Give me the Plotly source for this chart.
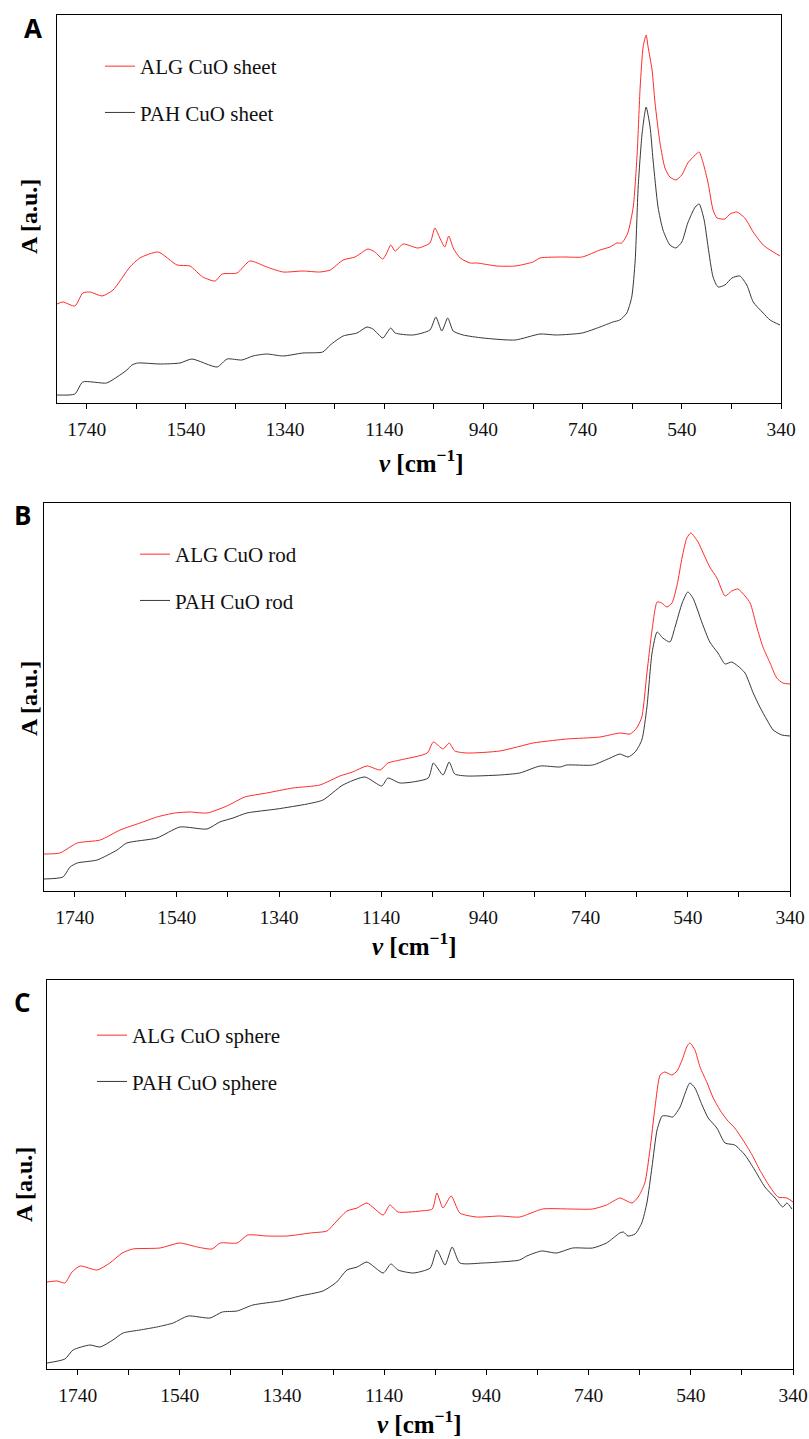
import plotly.graph_objects as go

# ---------------- data (absorbance, arbitrary units) ----------------
# Panel A : CuO sheet
wn_alg_sheet = [1800, 1788, 1764, 1748, 1733, 1709, 1687, 1653, 1633, 1596, 1558, 1532, 1506, 1481, 1467,
                1437, 1411, 1377, 1344, 1304, 1270, 1249, 1223, 1199, 1173, 1159, 1143, 1135, 1127, 1118,
                1102, 1072, 1048, 1038, 1028, 1018, 1010, 1001, 987, 967, 953, 913, 876, 840, 826, 780,
                741, 705, 685, 671, 661, 649, 638, 630, 624, 618, 612, 608, 600, 594, 584, 574, 564, 552,
                540, 528, 513, 505, 497, 487, 477, 469, 453, 443, 429, 413, 396, 376, 362, 342]
a_alg_sheet = [99, 101, 97, 110, 111, 107, 113, 136, 145, 151, 138, 137, 126, 122, 129,
               130, 142, 136, 131, 132, 131, 133, 143, 146, 154, 151, 144, 150, 158, 152,
               159, 155, 160, 175, 165, 156, 167, 155, 145, 140, 140, 137, 137, 141, 145, 146,
               146, 153, 156, 160, 160, 170, 196, 250, 316, 356, 368, 356, 333, 300, 260, 235, 226, 223,
               228, 240, 248, 251, 240, 220, 193, 185, 184, 189, 191, 185, 171, 158, 153, 147]

wn_pah_sheet = [1800, 1764, 1748, 1700, 1679, 1659, 1649, 1637, 1592, 1552, 1528, 1477, 1457, 1427, 1405,
                1377, 1344, 1304, 1264, 1249, 1223, 1195, 1175, 1163, 1143, 1135, 1127, 1118, 1082, 1048,
                1036, 1024, 1012, 1001, 981, 941, 876, 826, 793, 741, 705, 679, 665, 651, 641, 634, 628,
                620, 612, 604, 598, 588, 578, 564, 552, 540, 528, 513, 505, 495, 487, 477, 467, 453, 439,
                423, 409, 396, 376, 362, 342]
a_pah_sheet = [8, 9, 21, 20, 26, 33, 38, 40, 39, 40, 44, 36, 44, 43, 47,
               49, 47, 50, 51, 58, 67, 70, 76, 74, 65, 70, 75, 70, 68, 73,
               86, 72, 85, 72, 68, 65, 63, 69, 68, 70, 76, 81, 83, 90, 106, 143, 216,
               270, 296, 276, 243, 196, 173, 158, 155, 161, 180, 196, 199, 183, 156, 126, 116, 118, 125,
               127, 118, 101, 90, 83, 78]

# Panel B : CuO rod
wn_alg_rod = [1800, 1769, 1735, 1690, 1651, 1612, 1579, 1544, 1514, 1481, 1442, 1407, 1364, 1313, 1260,
              1221, 1196, 1168, 1142, 1127, 1103, 1050, 1038, 1019, 1007, 996, 972, 908, 843, 829, 777,
              712, 673, 653, 640, 630, 620, 610, 600, 591, 581, 571, 561, 551, 542, 534, 520, 510, 497,
              483, 467, 454, 442, 428, 418, 405, 393, 379, 366, 354, 340]
a_alg_rod = [37, 38, 48, 51, 61, 68, 74, 78, 79, 78, 85, 94, 98, 103, 106,
             115, 119, 125, 121, 128, 131, 138, 149, 142, 148, 140, 138, 140, 148, 149, 152,
             154, 158, 157, 163, 174, 218, 261, 289, 288, 284, 288, 306, 334, 353, 358, 349, 338, 324,
             313, 295, 300, 302, 295, 288, 264, 244, 228, 213, 208, 207]

wn_pah_rod = [1800, 1763, 1749, 1735, 1696, 1657, 1638, 1579, 1534, 1481, 1456, 1430, 1403, 1344, 1285,
              1254, 1215, 1172, 1139, 1127, 1103, 1048, 1038, 1019, 1007, 996, 972, 908, 869, 829, 790,
              777, 726, 692, 673, 657, 643, 630, 620, 610, 600, 589, 575, 565, 551, 540, 530, 512, 497,
              481, 467, 454, 442, 428, 412, 399, 385, 373, 356, 340]
a_pah_rod = [12, 14, 24, 28, 31, 41, 48, 53, 64, 62, 69, 73, 78, 82, 87,
             91, 106, 114, 105, 113, 108, 113, 128, 116, 129, 117, 115, 116, 118, 125, 124,
             126, 126, 133, 137, 134, 139, 151, 184, 238, 259, 253, 249, 264, 288, 299, 293, 268, 249,
             238, 227, 229, 225, 218, 198, 184, 171, 161, 156, 155]

# Panel C : CuO sphere
wn_alg_sphere = [1800, 1780, 1765, 1751, 1735, 1702, 1677, 1653, 1632, 1579, 1540, 1506, 1477, 1461, 1428,
                 1407, 1370, 1330, 1285, 1252, 1240, 1213, 1193, 1174, 1142, 1129, 1113, 1070, 1046, 1037,
                 1025, 1009, 992, 959, 914, 875, 830, 777, 732, 705, 679, 669, 655, 643, 630, 620, 610,
                 600, 591, 577, 567, 557, 548, 542, 532, 522, 508, 497, 483, 469, 454, 438, 420, 405, 385,
                 369, 352, 340]
a_alg_sphere = [87, 88, 86, 97, 103, 99, 106, 116, 120, 121, 126, 122, 120, 126, 126,
                134, 133, 133, 136, 138, 144, 158, 161, 166, 154, 164, 157, 158, 160, 176,
                161, 173, 156, 152, 153, 152, 160, 160, 160, 164, 171, 169, 166, 172, 186, 219, 262,
                294, 297, 294, 298, 309, 322, 326, 319, 302, 286, 272, 259, 249, 241, 229, 214, 199, 182,
                172, 171, 167]

wn_pah_sphere = [1800, 1765, 1749, 1716, 1696, 1671, 1651, 1618, 1585, 1553, 1524, 1481, 1457, 1428, 1397,
                 1344, 1305, 1260, 1233, 1213, 1193, 1174, 1142, 1127, 1113, 1083, 1050, 1037, 1021, 1007,
                 992, 947, 914, 875, 861, 832, 803, 771, 732, 705, 679, 672, 663, 649, 636, 626, 616,
                 606, 596, 585, 575, 561, 551, 542, 532, 518, 506, 489, 473, 454, 434, 415, 395, 375, 360,
                 352, 342]
a_pah_sphere = [6, 10, 19, 24, 22, 29, 36, 39, 42, 46, 53, 51, 57, 58, 64,
                68, 73, 78, 87, 99, 102, 107, 96, 105, 99, 96, 101, 119, 104, 122,
                106, 106, 107, 109, 113, 118, 116, 121, 121, 126, 136, 137, 133, 135, 146, 166, 202,
                239, 253, 253, 252, 262, 276, 286, 281, 264, 251, 241, 226, 224, 214, 199, 182, 171, 162,
                166, 160]

panel_letters = ["A", "B", "C"]
legend_names = [("ALG CuO sheet", "PAH CuO sheet"),
                ("ALG CuO rod", "PAH CuO rod"),
                ("ALG CuO sphere", "PAH CuO sphere")]
tick_vals = [1740, 1540, 1340, 1140, 940, 740, 540, 340]
minor_vals = [1640, 1440, 1240, 1040, 840, 640, 440]
x_title = "<i>ν</i> [cm<sup>−1</sup>]"
y_title = "A [a.u.]"

# ---------------- layout geometry (pixels) ----------------
W, H = 809, 1439
boxes = [(57, 781, 15, 403), (44, 790, 503, 891), (47, 793, 980, 1369)]
y_max = [388, 388, 389]

RED = "#ff2a2a"
BLK = "#383838"
SERIF = "Liberation Serif"

series = [(wn_alg_sheet, a_alg_sheet, wn_pah_sheet, a_pah_sheet),
          (wn_alg_rod, a_alg_rod, wn_pah_rod, a_pah_rod),
          (wn_alg_sphere, a_alg_sphere, wn_pah_sphere, a_pah_sphere)]

fig = go.Figure()
legend_pos = [(100, 46), (135, 534), (92, 1015)]

for i, (wa, aa, wp, ap) in enumerate(series):
    xa = "x" if i == 0 else f"x{i+1}"
    ya = "y" if i == 0 else f"y{i+1}"
    lg = "legend" if i == 0 else f"legend{i+1}"
    fig.add_trace(go.Scatter(x=wa, y=aa, mode="lines", name=legend_names[i][0],
                             line=dict(color=RED, width=1, shape="spline", smoothing=0.6),
                             xaxis=xa, yaxis=ya, legend=lg, legendgroup=f"a{i}"))
    fig.add_trace(go.Scatter(x=wp, y=ap, mode="lines", name=legend_names[i][1],
                             line=dict(color=BLK, width=1, shape="spline", smoothing=0.6),
                             xaxis=xa, yaxis=ya, legend=lg, legendgroup=f"p{i}"))

layout = dict(width=W, height=H, margin=dict(l=0, r=0, t=0, b=0, autoexpand=False),
              paper_bgcolor="white", plot_bgcolor="white", showlegend=True)

annotations = []
for i, (l, r, t, b) in enumerate(boxes):
    sfx = "" if i == 0 else str(i + 1)
    layout["xaxis" + sfx] = dict(
        domain=[l / W, r / W], anchor="y" + sfx, range=[1800, 340], autorange=False,
        automargin=False,
        tickmode="array", tickvals=tick_vals, ticks="outside", ticklen=5, tickwidth=1,
        tickcolor="black", showline=True, linecolor="black", linewidth=1.3, mirror=True,
        showgrid=False, zeroline=False, ticklabelstandoff=3,
        tickfont=dict(family=SERIF, size=19.5, color="#111"),
        minor=dict(tickvals=minor_vals, ticks="outside", ticklen=5, tickcolor="black",
                   showgrid=False))
    layout["yaxis" + sfx] = dict(
        domain=[1 - b / H, 1 - t / H], anchor="x" + sfx, range=[0, y_max[i]], autorange=False,
        automargin=False,
        showticklabels=False, ticks="", showline=True, linecolor="black", linewidth=1.3,
        mirror=True, showgrid=False, zeroline=False)
    lx, ly = legend_pos[i]
    layout["legend" if i == 0 else f"legend{i+1}"] = dict(
        x=lx / W, y=1 - ly / H, xanchor="left", yanchor="top", bgcolor="rgba(0,0,0,0)",
        font=dict(family=SERIF, size=21, color="#111"), traceorder="grouped",
        tracegroupgap=16, borderwidth=0)

letter_pos = [(33, 28), (22, 515), (22, 1002)]
xtitle_pos = [(421, 461), (415, 944), (419, 1422)]
ytitle_pos = [(29, 217), (29, 699), (24, 1185)]
for i in range(3):
    annotations.append(dict(text=panel_letters[i], x=letter_pos[i][0] / W, y=1 - letter_pos[i][1] / H,
                            xref="paper", yref="paper", showarrow=False, xanchor="center",
                            yanchor="middle",
                            font=dict(family="Open Sans", size=26, color="black", weight="bold")))
    annotations.append(dict(text=x_title, x=xtitle_pos[i][0] / W, y=1 - xtitle_pos[i][1] / H,
                            xref="paper", yref="paper", showarrow=False, xanchor="center",
                            yanchor="middle",
                            font=dict(family=SERIF, size=25, color="black", weight="bold")))
    annotations.append(dict(text=y_title, x=ytitle_pos[i][0] / W, y=1 - ytitle_pos[i][1] / H,
                            xref="paper", yref="paper", showarrow=False, xanchor="center",
                            yanchor="middle", textangle=-90,
                            font=dict(family=SERIF, size=24, color="black", weight="bold")))
layout["annotations"] = annotations
fig.update_layout(**layout)
fig.write_html("out.html", config={"displayModeBar": False},
               post_script="document.body.style.margin='0';document.body.style.overflow='hidden';")
